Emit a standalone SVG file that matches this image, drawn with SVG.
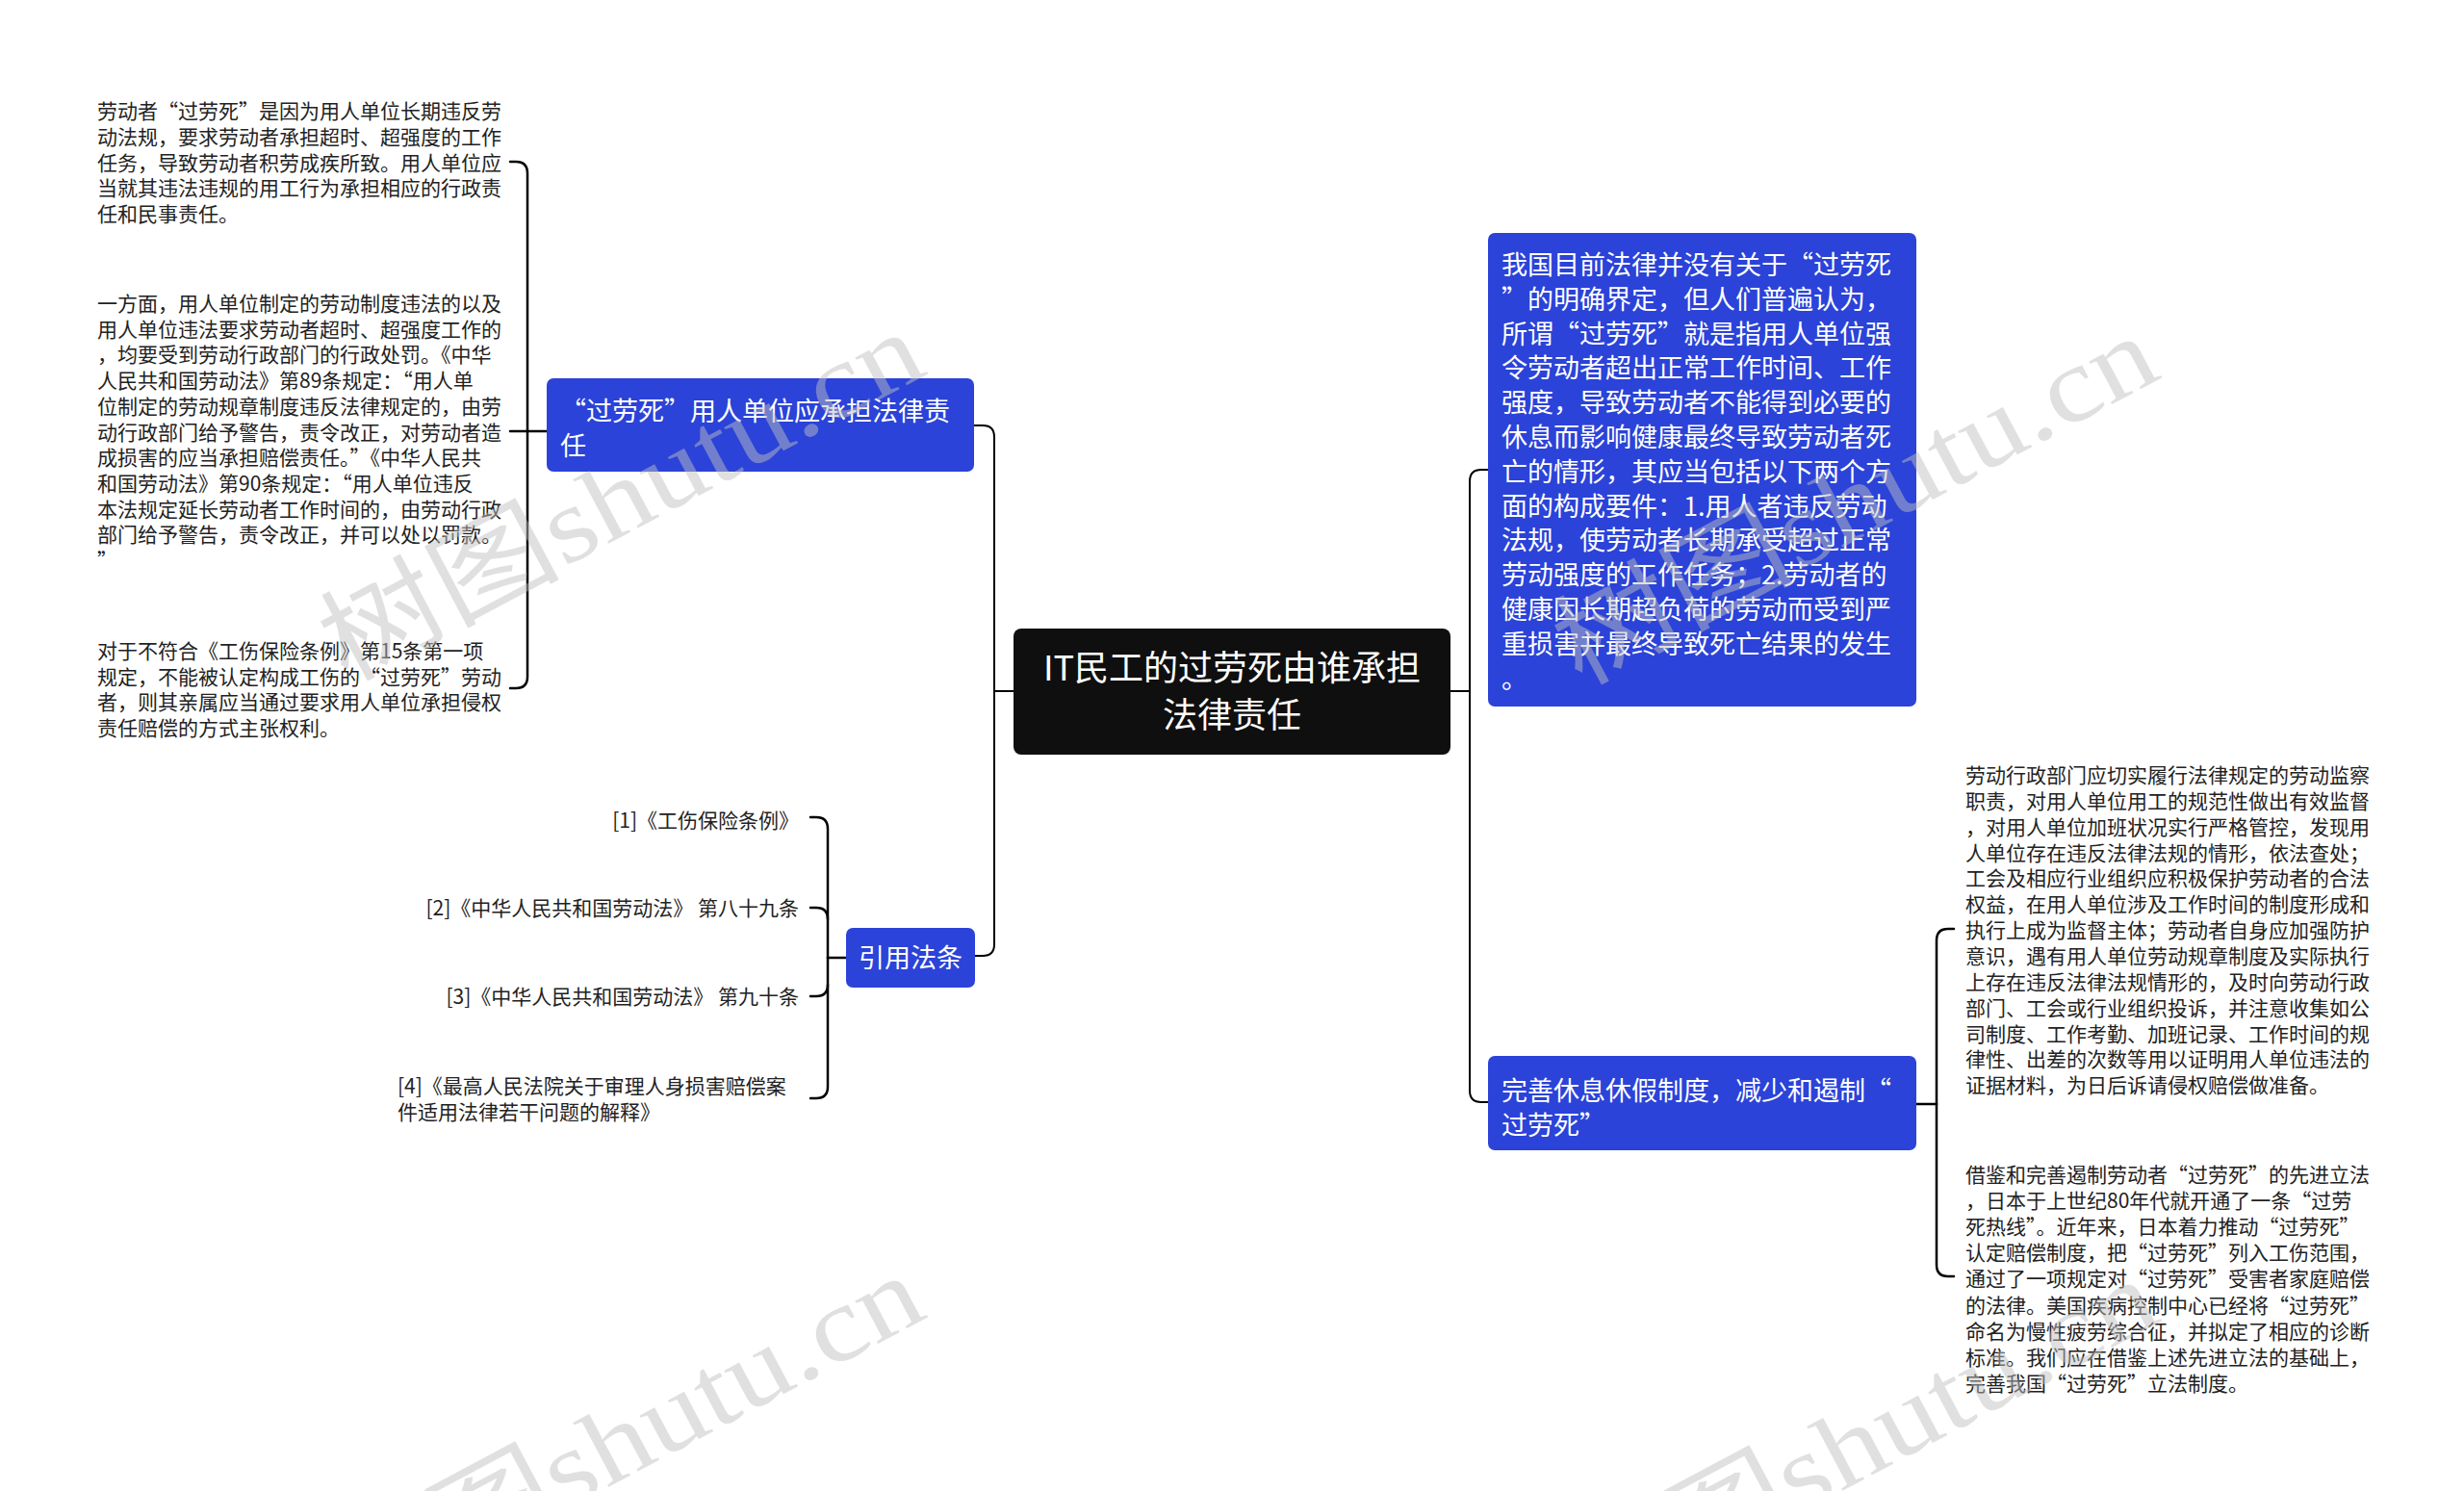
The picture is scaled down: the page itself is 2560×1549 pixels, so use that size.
<svg xmlns="http://www.w3.org/2000/svg" width="2560" height="1549" viewBox="0 0 2560 1549">
<style>
  text { font-family: "Noto Sans CJK SC", "Noto Sans", sans-serif; }
  .leaf { font-size: 21px; fill: #222; }
  .node-blue { fill: #2b43d8; }
  .node-label { font-size: 27px; fill: #ffffff; }
  .root-box { fill: #0f0f0f; }
  .root-label { font-size: 36px; fill: #ffffff; }
  .conn { fill: none; stroke: #000; stroke-width: 2.5; stroke-linecap: round; stroke-linejoin: round; }
  .conn-main { fill: none; stroke: #000; stroke-width: 2; }
  .wm { font-family: "Liberation Serif", "Noto Sans CJK SC", serif; font-size: 110px; fill: #c0c0c0; opacity: 0.48; }
</style>
<rect x="0" y="0" width="2560" height="1549" fill="#ffffff"/>

<g id="connectors">
  <!-- root to left trunk -->
  <path class="conn-main" d="M1053,718 H1033"/>
  <path class="conn-main" d="M1033,718 V454 Q1033,442 1021,442 H1012"/>
  <path class="conn-main" d="M1033,718 V981 Q1033,993 1021,993 H1013"/>
  <!-- root to right trunk -->
  <path class="conn-main" d="M1507,718 H1527"/>
  <path class="conn-main" d="M1527,718 V500 Q1527,488 1539,488 H1546"/>
  <path class="conn-main" d="M1527,718 V1133 Q1527,1145 1539,1145 H1546"/>
  <!-- node C children -->
  <path class="conn" d="M568,448 H530"/>
  <path class="conn" d="M548,448 V180 Q548,168 536,168 H530"/>
  <path class="conn" d="M548,448 V703 Q548,715 536,715 H530"/>
  <!-- node D children -->
  <path class="conn" d="M879,995 H860"/>
  <path class="conn" d="M860,995 V861 Q860,849 848,849 H842"/>
  <path class="conn" d="M842,943 H848 Q860,943 860,955"/>
  <path class="conn" d="M860,1023 Q860,1035 848,1035 H842"/>
  <path class="conn" d="M860,995 V1129 Q860,1141 848,1141 H842"/>
  <!-- node B children -->
  <path class="conn" d="M1991,1147 H2012"/>
  <path class="conn" d="M2012,1147 V977 Q2012,965 2024,965 H2030"/>
  <path class="conn" d="M2012,1147 V1314 Q2012,1326 2024,1326 H2030"/>
</g>

<g id="root">
  <rect class="root-box" x="1053" y="653" width="454" height="131" rx="8"/>
  <text class="root-label" text-anchor="middle"><tspan x="1280" y="707">IT民工的过劳死由谁承担</tspan><tspan x="1280" y="756">法律责任</tspan></text>
</g>

<g id="node-definition">
  <rect class="node-blue" x="1546" y="242" width="445" height="492" rx="7"/>
  <text class="node-label">
    <tspan x="1560" y="285">我国目前法律并没有关于“过劳死</tspan>
    <tspan x="1560" dy="35.8">”的明确界定，但人们普遍认为，</tspan>
    <tspan x="1560" dy="35.8">所谓“过劳死”就是指用人单位强</tspan>
    <tspan x="1560" dy="35.8">令劳动者超出正常工作时间、工作</tspan>
    <tspan x="1560" dy="35.8">强度，导致劳动者不能得到必要的</tspan>
    <tspan x="1560" dy="35.8">休息而影响健康最终导致劳动者死</tspan>
    <tspan x="1560" dy="35.8">亡的情形，其应当包括以下两个方</tspan>
    <tspan x="1560" dy="35.8">面的构成要件：1.用人者违反劳动</tspan>
    <tspan x="1560" dy="35.8">法规，使劳动者长期承受超过正常</tspan>
    <tspan x="1560" dy="35.8">劳动强度的工作任务；2.劳动者的</tspan>
    <tspan x="1560" dy="35.8">健康因长期超负荷的劳动而受到严</tspan>
    <tspan x="1560" dy="35.8">重损害并最终导致死亡结果的发生</tspan>
    <tspan x="1560" dy="35.8">。</tspan>
  </text>
</g>

<g id="node-prevention">
  <rect class="node-blue" x="1546" y="1097" width="445" height="98" rx="7"/>
  <text class="node-label"><tspan x="1560" y="1143">完善休息休假制度，减少和遏制“</tspan><tspan x="1560" y="1179">过劳死”</tspan></text>
</g>

<g id="leaf-supervision">
  <text class="leaf">
    <tspan x="2042" y="813">劳动行政部门应切实履行法律规定的劳动监察</tspan>
    <tspan x="2042" dy="26.85">职责，对用人单位用工的规范性做出有效监督</tspan>
    <tspan x="2042" dy="26.85">，对用人单位加班状况实行严格管控，发现用</tspan>
    <tspan x="2042" dy="26.85">人单位存在违反法律法规的情形，依法查处；</tspan>
    <tspan x="2042" dy="26.85">工会及相应行业组织应积极保护劳动者的合法</tspan>
    <tspan x="2042" dy="26.85">权益，在用人单位涉及工作时间的制度形成和</tspan>
    <tspan x="2042" dy="26.85">执行上成为监督主体；劳动者自身应加强防护</tspan>
    <tspan x="2042" dy="26.85">意识，遇有用人单位劳动规章制度及实际执行</tspan>
    <tspan x="2042" dy="26.85">上存在违反法律法规情形的，及时向劳动行政</tspan>
    <tspan x="2042" dy="26.85">部门、工会或行业组织投诉，并注意收集如公</tspan>
    <tspan x="2042" dy="26.85">司制度、工作考勤、加班记录、工作时间的规</tspan>
    <tspan x="2042" dy="26.85">律性、出差的次数等用以证明用人单位违法的</tspan>
    <tspan x="2042" dy="26.85">证据材料，为日后诉请侵权赔偿做准备。</tspan>
  </text>
</g>

<g id="leaf-legislation">
  <text class="leaf">
    <tspan x="2042" y="1228">借鉴和完善遏制劳动者“过劳死”的先进立法</tspan>
    <tspan x="2042" dy="27.1">，日本于上世纪80年代就开通了一条“过劳</tspan>
    <tspan x="2042" dy="27.1">死热线”。近年来，日本着力推动“过劳死”</tspan>
    <tspan x="2042" dy="27.1">认定赔偿制度，把“过劳死”列入工伤范围，</tspan>
    <tspan x="2042" dy="27.1">通过了一项规定对“过劳死”受害者家庭赔偿</tspan>
    <tspan x="2042" dy="27.1">的法律。美国疾病控制中心已经将“过劳死”</tspan>
    <tspan x="2042" dy="27.1">命名为慢性疲劳综合征，并拟定了相应的诊断</tspan>
    <tspan x="2042" dy="27.1">标准。我们应在借鉴上述先进立法的基础上，</tspan>
    <tspan x="2042" dy="27.1">完善我国“过劳死”立法制度。</tspan>
  </text>
</g>

<g id="node-employer">
  <rect class="node-blue" x="568" y="393" width="444" height="97" rx="7"/>
  <text class="node-label"><tspan x="582" y="437">“过劳死”用人单位应承担法律责</tspan><tspan x="582" y="473">任</tspan></text>
</g>

<g id="leaf-liability">
  <text class="leaf">
    <tspan x="101" y="123">劳动者“过劳死”是因为用人单位长期违反劳</tspan>
    <tspan x="101" dy="26.8">动法规，要求劳动者承担超时、超强度的工作</tspan>
    <tspan x="101" dy="26.8">任务，导致劳动者积劳成疾所致。用人单位应</tspan>
    <tspan x="101" dy="26.8">当就其违法违规的用工行为承担相应的行政责</tspan>
    <tspan x="101" dy="26.8">任和民事责任。</tspan>
  </text>
</g>

<g id="leaf-penalty">
  <text class="leaf">
    <tspan x="101" y="323">一方面，用人单位制定的劳动制度违法的以及</tspan>
    <tspan x="101" dy="26.7">用人单位违法要求劳动者超时、超强度工作的</tspan>
    <tspan x="101" dy="26.7">，均要受到劳动行政部门的行政处罚。《中华</tspan>
    <tspan x="101" dy="26.7">人民共和国劳动法》第89条规定：“用人单</tspan>
    <tspan x="101" dy="26.7">位制定的劳动规章制度违反法律规定的，由劳</tspan>
    <tspan x="101" dy="26.7">动行政部门给予警告，责令改正，对劳动者造</tspan>
    <tspan x="101" dy="26.7">成损害的应当承担赔偿责任。”《中华人民共</tspan>
    <tspan x="101" dy="26.7">和国劳动法》第90条规定：“用人单位违反</tspan>
    <tspan x="101" dy="26.7">本法规定延长劳动者工作时间的，由劳动行政</tspan>
    <tspan x="101" dy="26.7">部门给予警告，责令改正，并可以处以罚款。</tspan>
    <tspan x="101" dy="26.7">”</tspan>
  </text>
</g>

<g id="leaf-tort">
  <text class="leaf">
    <tspan x="101" y="684">对于不符合《工伤保险条例》第15条第一项</tspan>
    <tspan x="101" dy="26.7">规定，不能被认定构成工伤的“过劳死”劳动</tspan>
    <tspan x="101" dy="26.7">者，则其亲属应当通过要求用人单位承担侵权</tspan>
    <tspan x="101" dy="26.7">责任赔偿的方式主张权利。</tspan>
  </text>
</g>

<g id="node-citations">
  <rect class="node-blue" x="879" y="964" width="134" height="62" rx="7"/>
  <text class="node-label" text-anchor="middle" x="946" y="1005">引用法条</text>
</g>

<g id="ref-1"><text class="leaf" text-anchor="end" x="830" y="860">[1]《工伤保险条例》</text></g>
<g id="ref-2"><text class="leaf" text-anchor="end" x="830" y="951">[2]《中华人民共和国劳动法》 第八十九条</text></g>
<g id="ref-3"><text class="leaf" text-anchor="end" x="830" y="1043">[3]《中华人民共和国劳动法》 第九十条</text></g>
<g id="ref-4"><text class="leaf"><tspan x="413" y="1136">[4]《最高人民法院关于审理人身损害赔偿案</tspan><tspan x="413" y="1163">件适用法律若干问题的解释》</tspan></text></g>

<g id="watermarks">
  <text class="wm" text-anchor="middle" transform="translate(645,515) rotate(-28)" x="0" y="38" textLength="687" lengthAdjust="spacingAndGlyphs">树图shutu.cn</text>
  <text class="wm" text-anchor="middle" transform="translate(1927,519) rotate(-28)" x="0" y="38" textLength="687" lengthAdjust="spacingAndGlyphs">树图shutu.cn</text>
  <text class="wm" text-anchor="middle" transform="translate(645,1495) rotate(-28)" x="0" y="38" textLength="687" lengthAdjust="spacingAndGlyphs">树图shutu.cn</text>
  <text class="wm" text-anchor="middle" transform="translate(1927,1499) rotate(-28)" x="0" y="38" textLength="687" lengthAdjust="spacingAndGlyphs">树图shutu.cn</text>
</g>
</svg>
